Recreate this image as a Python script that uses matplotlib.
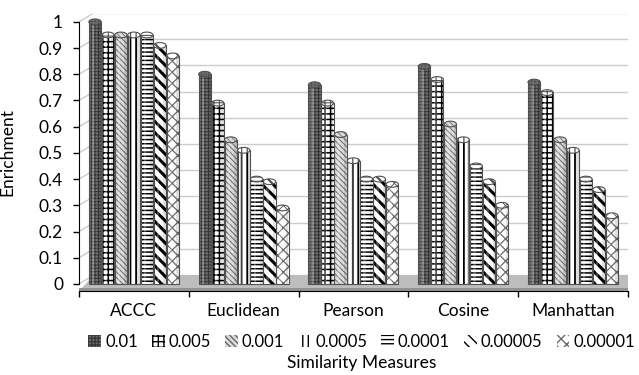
import numpy as np
import matplotlib.pyplot as plt
from matplotlib.patches import Ellipse, Patch, Polygon

plt.rcParams['font.family'] = ['Lato', 'DejaVu Sans']

measures = ['ACCC', 'Euclidean', 'Pearson', 'Cosine', 'Manhattan']
thresholds = ['0.01', '0.005', '0.001', '0.0005', '0.0001', '0.00005', '0.00001']

# enrichment per threshold, one value per similarity measure
e_001 = [1.00, 0.80, 0.76, 0.83, 0.77]
e_0005 = [0.95, 0.69, 0.69, 0.78, 0.73]
e_0001 = [0.95, 0.55, 0.57, 0.61, 0.55]
e_00005 = [0.95, 0.51, 0.47, 0.55, 0.51]
e_00001 = [0.95, 0.40, 0.40, 0.45, 0.40]
e_000005 = [0.91, 0.39, 0.40, 0.39, 0.36]
e_000001 = [0.87, 0.29, 0.38, 0.30, 0.26]
series = [e_001, e_0005, e_0001, e_00005, e_00001, e_000005, e_000001]

# fill, hatch, hatch colour, hatch line width
styles = [
    ('#707070', '+++++', '#383838', 0.7),
    ('white', '+++', 'black', 1.1),
    ('#dcdcdc', '\\\\\\\\\\\\', '#686868', 0.7),
    ('white', '|||', 'black', 1.3),
    ('white', '----', 'black', 1.1),
    ('white', '\\\\\\', 'black', 2.2),
    ('white', 'xxx', '#6a6a6a', 0.9),
]

fs = 12.5
fig = plt.figure(figsize=(6.39, 3.75), dpi=100)
ax = fig.add_axes([0.1236, 0.224, 0.859, 0.7387])
ymin, ymax = -0.027, 1.03
ax.set_xlim(-0.5, 4.5)
ax.set_ylim(ymin, ymax)

# back-wall gridlines with a short perspective run from the axis
off, dx = 0.034, 0.137
for g in np.arange(0, 1.01, 0.1):
    ax.plot([-0.5, -0.5 + dx], [g, g + off], color='#cccccc', lw=1, zorder=0)
    ax.plot([-0.5 + dx, 4.5], [g + off, g + off], color='#cccccc', lw=1, zorder=0)

# floor slab
floor = Polygon([[-0.5, ymin], [4.5, ymin], [4.5, off], [-0.5 + dx, off]],
                closed=True, facecolor='#bdbdbd', edgecolor='none', zorder=1)
ax.add_patch(floor)
ax.fill_between([-0.5, 4.5], ymin, ymin + 0.01, color='#939393', lw=0, zorder=1)

x = np.arange(len(measures))
w = 0.112
step = 0.118
for i, vals in enumerate(series):
    fc, hatch, hc, hlw = styles[i]
    pos = x + (i - 3) * step
    bars = ax.bar(pos, vals, w, bottom=0, color=fc, edgecolor=hc, hatch=hatch,
                  linewidth=0, zorder=3)
    for b in bars:
        if hasattr(b, 'set_hatch_linewidth'):
            b.set_hatch_linewidth(hlw)
    ax.bar(pos, vals, w, bottom=0, fill=False, edgecolor='#505050', linewidth=0.8, zorder=4)
    # soft highlight and shade to suggest the rounded column
    ax.bar(pos - w * 0.15, vals, w * 0.2, bottom=0, color='white', alpha=0.25,
           linewidth=0, zorder=4)
    ax.bar(pos + w * 0.38, vals, w * 0.2, bottom=0, color='black', alpha=0.12,
           linewidth=0, zorder=4)
    for p, v in zip(pos, vals):
        cap = Ellipse((p, v), w, 0.022, facecolor=fc, edgecolor='#505050',
                      hatch=hatch, linewidth=0.8, zorder=5)
        if hasattr(cap, 'set_hatch_linewidth'):
            cap.set_hatch_linewidth(hlw * 0.7)
        ax.add_patch(cap)

for s in ['top', 'right']:
    ax.spines[s].set_visible(False)
ax.spines['left'].set_bounds(0, 1)
ax.spines['bottom'].set_color('black')

ax.set_yticks(np.arange(0, 1.01, 0.1))
ax.set_yticklabels(['0', '0.1', '0.2', '0.3', '0.4', '0.5', '0.6', '0.7', '0.8', '0.9', '1'])
ax.tick_params(axis='y', length=4.5, width=1, labelsize=fs, pad=7)

ax.set_xticks(np.arange(-0.5, 4.6, 1.0))
ax.set_xticklabels([])
ax.tick_params(axis='x', which='major', length=4.5, width=1, direction='out')
ax.set_xticks(x, minor=True)
ax.set_xticklabels(measures, minor=True)
ax.tick_params(axis='x', which='minor', length=0, labelsize=fs, pad=9)

ax.set_ylabel('Enrichment', fontsize=fs)
ax.yaxis.set_label_coords(-0.116, 0.5)

handles = [Patch(facecolor=s[0], edgecolor=s[2], hatch=s[1], linewidth=0) for s in styles]
fig.legend(handles, thresholds, loc='center', bbox_to_anchor=(0.566, 0.088), ncol=7,
           frameon=False, fontsize=12, handlelength=0.75, handleheight=0.75,
           handletextpad=0.25, columnspacing=0.85, borderpad=0, borderaxespad=0)

fig.text(0.566, 0.032, 'Similarity Measures', ha='center', va='center', fontsize=fs)

fig.savefig('out.png', dpi=100)
